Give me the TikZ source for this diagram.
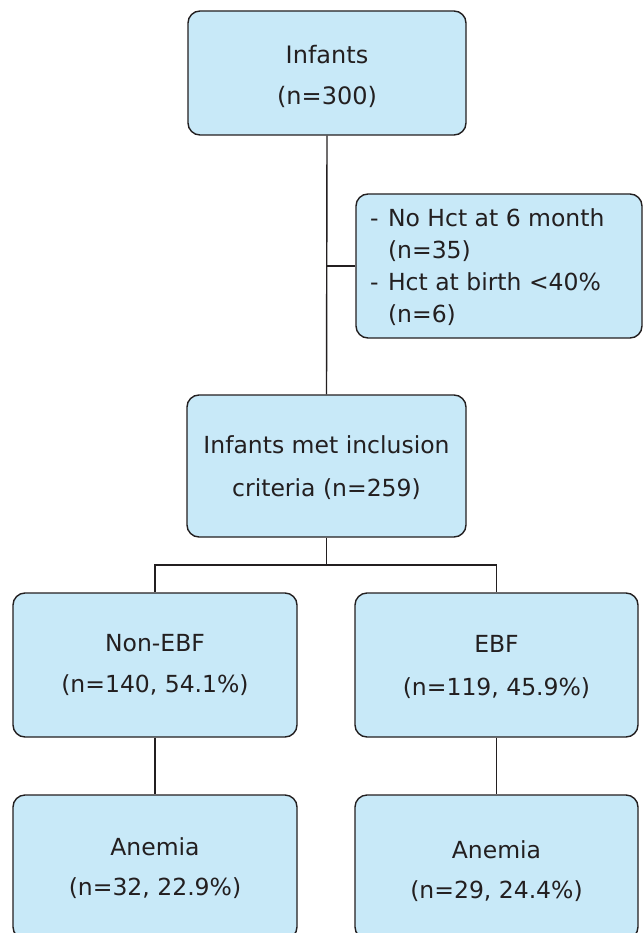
\documentclass[tikz,border=0pt]{standalone}
\usepackage{fontspec}
\setmainfont{DejaVu Sans}
\definecolor{boxfill}{RGB}{200,233,248}
\definecolor{linec}{RGB}{35,31,32}
\newcommand{\boxtext}[3]{\raisebox{#1}[\height][\depth]{\begin{tabular}{@{}#2@{}}#3\end{tabular}}}
\begin{document}
\begin{tikzpicture}[x=1pt,y=-1pt,
  box/.style={draw=linec, line width=1.4pt, fill=boxfill, rounded corners=12pt,
    inner sep=0pt, text=linec, font=\fontsize{23.5}{41}\selectfont},
  conn/.style={draw=linec, line width=1.4pt}]
\useasboundingbox (0,0) rectangle (643,933);
\clip (0,0) rectangle (643,933);
\node[box, minimum width=278pt, minimum height=124pt, font=\fontsize{24}{41}\selectfont] (inf) at (327,73)
  {\boxtext{-3pt}{c}{Infants\\(n=300)}};
\node[box, minimum width=286pt, minimum height=144pt, font=\fontsize{23.5}{32}\selectfont] (excl) at (499,266)
  {\boxtext{-2pt}{p{258pt}}{\makebox[18pt][l]{-}No Hct at 6 month\\\hspace*{18pt}(n=35)\\\makebox[18pt][l]{-}Hct at birth <40\%\\\hspace*{18pt}(n=6)}};
\node[box, minimum width=279pt, minimum height=142pt, font=\fontsize{23.5}{43}\selectfont] (incl) at (326.5,466)
  {\boxtext{0pt}{c}{Infants met inclusion\\criteria (n=259)}};
\node[box, minimum width=284pt, minimum height=144pt] (nonebf) at (155,665)
  {\boxtext{1pt}{c}{Non-EBF\\(n=140, 54.1\%)}};
\node[box, minimum width=283pt, minimum height=144pt, font=\fontsize{23.5}{43}\selectfont] (ebf) at (496.5,665)
  {\boxtext{0pt}{c}{EBF\\(n=119, 45.9\%)}};
\node[box, minimum width=284pt, minimum height=144pt, font=\fontsize{23.5}{40}\selectfont] (anl) at (155,867)
  {\boxtext{0pt}{c}{Anemia\\(n=32, 22.9\%)}};
\node[box, minimum width=283pt, minimum height=144pt, font=\fontsize{23.5}{40}\selectfont] (anr) at (496.5,867)
  {\boxtext{-3.5pt}{c}{Anemia\\(n=29, 24.4\%)}};
\draw[conn] (inf.south) -- (incl.north);
\draw[conn] (excl.west) -- (inf.south |- excl.west);
\coordinate (br) at (incl.south |- 0,565);
\draw[conn] (incl.south) -- (br) -| (nonebf.north);
\draw[conn] (br) -| (ebf.north);
\draw[conn] (nonebf.south) -- (anl.north);
\draw[conn] (ebf.south) -- (anr.north);
\end{tikzpicture}
\end{document}
